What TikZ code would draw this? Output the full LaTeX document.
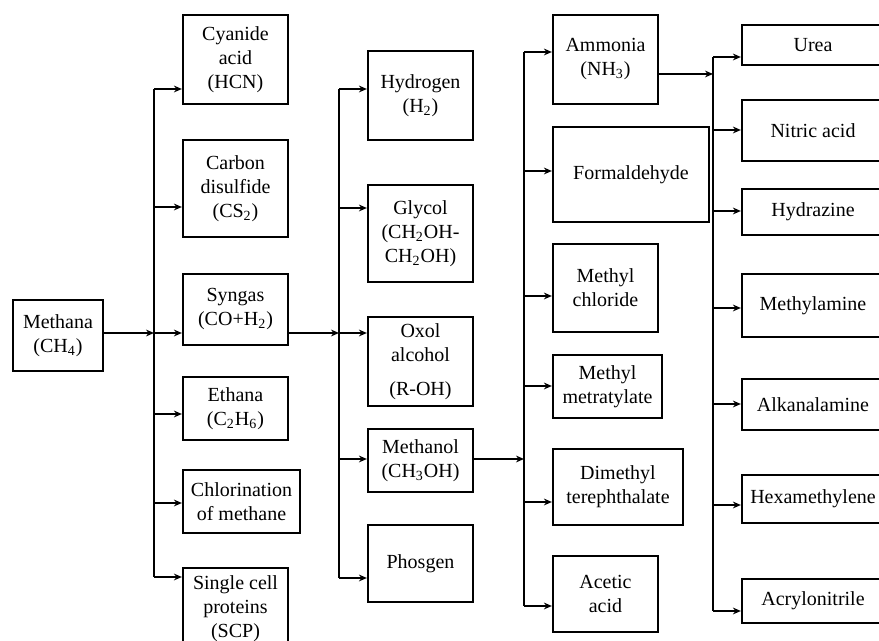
\documentclass[tikz,border=0pt]{standalone}
\usepackage{fontspec}
\setmainfont{Liberation Serif}
\usetikzlibrary{arrows.meta}

\begin{document}
\begin{tikzpicture}[x=0.5pt,y=-0.5pt,
    box/.style={draw,line width=1.1pt,align=center,inner sep=1pt,font=\fontsize{10}{12}\selectfont},
    sz/.style 2 args={minimum width=#1*0.5pt,minimum height=#2*0.5pt},
    link/.style={line width=1.1pt},
    arr/.style={link,-{Stealth[length=4pt,width=3.4pt]}}]
  \useasboundingbox (0,0) rectangle (879,641);
  % feedstock
  \node[box,sz={90}{71}] (methana) at (58,335.5) {Methana\\(CH\textsubscript{4})};
  % first products
  \node[box,sz={105}{89}] (cyan) at (235.5,59.5) {Cyanide\\acid\\(HCN)};
  \node[box,sz={105}{97}] (cs2) at (235.5,188.5) {Carbon\\disulfide\\(CS\textsubscript{2})};
  \node[box,sz={105}{71}] (syngas) at (235.5,309.5) {Syngas\\(CO+H\textsubscript{2})};
  \node[box,sz={105}{63}] (ethana) at (235.5,408.5) {Ethana\\(C\textsubscript{2}H\textsubscript{6})};
  \node[box,sz={117}{63}] (chlor) at (241.5,501.5) {Chlorination\\of methane};
  \node[box,sz={105}{82}] (scp) at (235.5,609) {Single cell\\proteins\\(SCP)};
  % from syngas
  \node[box,sz={105}{89}] (hydro) at (420.5,95.5) {Hydrogen\\(H\textsubscript{2})};
  \node[box,sz={105}{97}] (glycol) at (420.5,233.5) {Glycol\\(CH\textsubscript{2}OH-\\CH\textsubscript{2}OH)};
  \node[box,sz={105}{89}] (oxol) at (420.5,361.5) {Oxol\\alcohol\\[5pt](R-OH)};
  \node[box,sz={105}{63}] (methanol) at (420.5,460.5) {Methanol\\(CH\textsubscript{3}OH)};
  \node[box,sz={105}{77}] (phosgen) at (420.5,563.5) {Phosgen};
  % from methanol
  \node[box,sz={105}{89}] (ammonia) at (605.5,59.5) {Ammonia\\(NH\textsubscript{3})};
  \node[box,sz={156}{95}] (formal) at (631,174.5) {Formaldehyde};
  \node[box,sz={105}{88}] (mecl) at (605.5,288) {Methyl\\chloride};
  \node[box,sz={109}{63}] (mema) at (607.5,386.5) {Methyl\\metratylate};
  \node[box,sz={130}{76}] (dmt) at (618,487) {Dimethyl\\terephthalate};
  \node[box,sz={105}{76}] (acetic) at (605.5,594) {Acetic\\acid};
  % from ammonia
  \node[box,sz={142}{40}] (urea) at (813,45) {Urea};
  \node[box,sz={142}{61}] (nitric) at (813,130.5) {Nitric acid};
  \node[box,sz={142}{46}] (hydraz) at (813,212) {Hydrazine};
  \node[box,sz={142}{63}] (meam) at (813,305.5) {Methylamine};
  \node[box,sz={142}{51}] (alkan) at (813,404.5) {Alkanalamine};
  \node[box,sz={142}{48}] (hexa) at (813,499) {Hexamethylene};
  \node[box,sz={142}{44}] (acryl) at (813,601) {Acrylonitrile};

  % branch lines
  \foreach \n/\y in {cyan/89,cs2/207,syngas/333,ethana/414,chlor/503,scp/577}
    {\coordinate (a-\n) at (154,\y);
     \draw[arr] (a-\n) -- (a-\n -| \n.west);}
  \foreach \n/\y in {hydro/89,glycol/208,oxol/333,methanol/459,phosgen/578}
    {\coordinate (b-\n) at (339,\y);
     \draw[arr] (b-\n) -- (b-\n -| \n.west);}
  \foreach \n/\y in {ammonia/52,formal/171,mecl/296,mema/386,dmt/502,acetic/606}
    {\coordinate (c-\n) at (524,\y);
     \draw[arr] (c-\n) -- (c-\n -| \n.west);}
  \foreach \n/\y in {urea/57,nitric/130,hydraz/211,meam/308,alkan/404,hexa/505,acryl/611}
    {\coordinate (d-\n) at (713,\y);
     \draw[arr] (d-\n) -- (d-\n -| \n.west);}
  \coordinate (c-in) at (524,459);
  \coordinate (d-in) at (713,74);

  % vertical buses
  \draw[link] (a-cyan) -- (a-scp);
  \draw[link] (b-hydro) -- (b-phosgen);
  \draw[link] (c-ammonia) -- (c-acetic);
  \draw[link] (d-urea) -- (d-acryl);

  % feeds into the buses
  \draw[arr] (methana.east |- a-syngas) -- (a-syngas);
  \draw[arr] (syngas.east |- b-oxol) -- (b-oxol);
  \draw[arr] (methanol.east |- c-in) -- (c-in);
  \draw[arr] (ammonia.east |- d-in) -- (d-in);
\end{tikzpicture}
\end{document}
